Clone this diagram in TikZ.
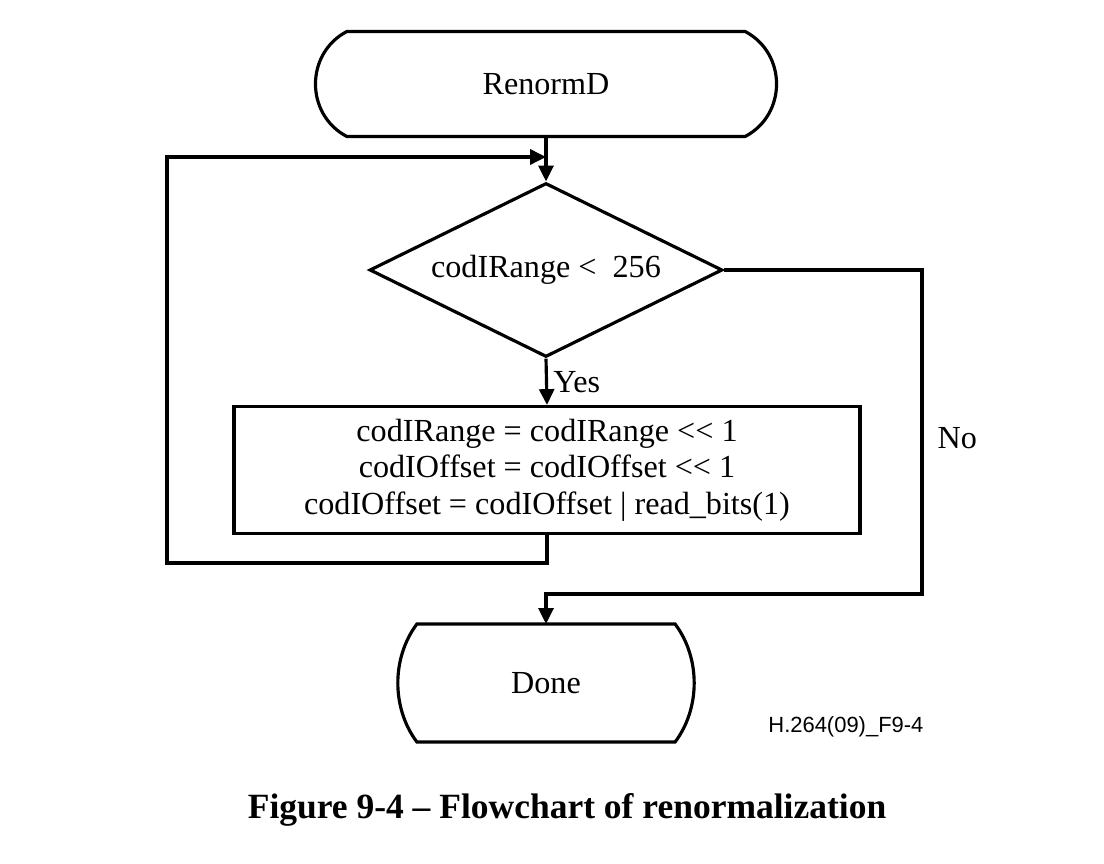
\documentclass[tikz,border=0pt]{standalone}
\usepackage{fontspec}
\setmainfont{Liberation Serif}
\setsansfont{Liberation Sans}
\usetikzlibrary{shapes.geometric,arrows.meta}

\begin{document}
\begin{tikzpicture}[x=0.02cm,y=-0.02cm,line width=1.8pt,
	every node/.style={font=\fontsize{18.3}{20.8}\selectfont},
	terminal/.style={rectangle,inner sep=0pt},
	decision/.style={diamond,draw,aspect=2,inner sep=0pt,minimum width=7.06cm,minimum height=3.48cm},
	process/.style={rectangle,draw,align=center,inner sep=0pt,minimum width=12.52cm,minimum height=2.54cm},
	arrow/.style={-{Triangle[length=9pt,width=8.5pt]}}]
	\useasboundingbox (0,0) rectangle (1104,864);
	
	\node[terminal,minimum width=7.9cm,minimum height=2.04cm] (start) at (546,84) {RenormD};
	\node[decision] (test) at (546,270) {codIRange <\ \ 256};
	\node[process] (shift) at (547,470) {codIRange = codIRange <\kern0pt< 1\\
		codIOffset = codIOffset <\kern0pt< 1\\
		codIOffset = codIOffset | read\_bits(1)};
	\node[terminal,minimum width=5.1cm,minimum height=2.3cm] (done) at (546,683) {Done};
	
	\foreach \n/\dx/\dy in {start/0.84cm/0.44cm,done/0.51cm/0.68cm}
		\draw (\n.north west) -- (\n.north east)
			.. controls ([xshift=\dx,yshift=-\dy]\n.north east) and ([xshift=\dx,yshift=\dy]\n.south east) .. (\n.south east)
			-- (\n.south west)
			.. controls ([xshift=-\dx,yshift=\dy]\n.south west) and ([xshift=-\dx,yshift=-\dy]\n.north west) .. cycle;
	
	\coordinate (join) at (546,157);
	\coordinate (loopleft) at (167,563);
	\coordinate (noright) at (922,594);
	
	\draw[arrow] (start.south) -- (test.north);
	\draw[arrow] (test.south) -- node[right,inner sep=3pt] {Yes} (shift.north);
	\draw[arrow] (shift.south) |- (loopleft) |- (join);
	\draw[arrow] (test.east) -| node[pos=0.76,right,inner sep=8pt] {No} (noright) -| (done.north);
	
	\node[anchor=east,inner sep=0pt,font=\sffamily\fontsize{12.5}{13}\selectfont] (tag) at (925,727) {H.264(09)\_F9-4};
	\node[font=\bfseries\fontsize{20.2}{21}\selectfont] (caption) at (567,810) {Figure 9-4 – Flowchart of renormalization};
\end{tikzpicture}
\end{document}
